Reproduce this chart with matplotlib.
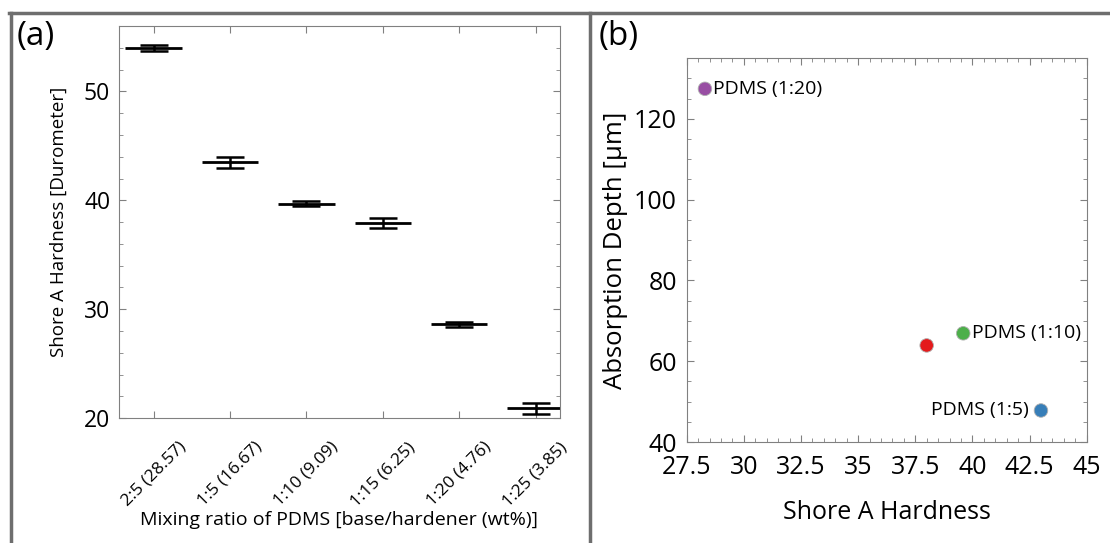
import matplotlib.pyplot as plt
from matplotlib.ticker import MultipleLocator
from matplotlib.lines import Line2D

plt.rcParams['font.family'] = ['Open Sans', 'DejaVu Sans']

# panel (a) data
ratio_labels = ['2:5 (28.57)', '1:5 (16.67)', '1:10 (9.09)', '1:15 (6.25)', '1:20 (4.76)', '1:25 (3.85)']
hardness = [54.0, 43.5, 39.7, 37.9, 28.6, 20.9]
hardness_err = [0.25, 0.5, 0.25, 0.45, 0.25, 0.5]

# panel (b) data
shore = [28.3, 38.0, 39.6, 43.0]
depth = [127.4, 63.9, 66.9, 47.8]
point_colors = ['#984ea3', '#e41a1c', '#4daf4a', '#377eb8']
point_labels = ['PDMS (1:20)', '', 'PDMS (1:10)', 'PDMS (1:5)']

fig = plt.figure(figsize=(11.1, 5.43), dpi=100)

frame_col = '#808080'

# ---- panel (a)
ax1 = fig.add_axes([0.1068, 0.230, 0.3977, 0.722])
xpos = list(range(len(hardness)))
ax1.hlines(hardness, [x - 0.37 for x in xpos], [x + 0.37 for x in xpos], color='black', lw=2)
ax1.errorbar(xpos, hardness, yerr=hardness_err, fmt='none', ecolor='black',
             elinewidth=1.8, capsize=10, capthick=1.8)
ax1.set_xlim(-0.46, 5.32)
ax1.set_ylim(20, 56)
ax1.set_xticks(xpos)
ax1.set_xticklabels(ratio_labels, rotation=45, ha='center', fontsize=12.5)
ax1.yaxis.set_major_locator(MultipleLocator(10))
ax1.yaxis.set_minor_locator(MultipleLocator(2))
ax1.tick_params(axis='y', labelsize=16.5, pad=6)
ax1.tick_params(axis='x', pad=15)
ax1.tick_params(which='both', direction='in', top=True, right=True, color=frame_col)
ax1.tick_params(which='major', length=5)
ax1.tick_params(which='minor', length=3)
ax1.set_ylabel('Shore A Hardness [Durometer]', fontsize=13.5, labelpad=12)
ax1.set_xlabel('Mixing ratio of PDMS [base/hardener (wt%)]', fontsize=14, labelpad=1)
for s in ax1.spines.values():
    s.set_color(frame_col)

# ---- panel (b)
ax2 = fig.add_axes([0.6186, 0.186, 0.3604, 0.707])
ax2.scatter(shore, depth, s=95, c=point_colors, edgecolors='#b0b0b0', linewidths=0.6, zorder=3)
for x, y, lab in zip(shore, depth, point_labels):
    if not lab:
        continue
    if x > 42:
        ax2.annotate(lab, (x, y), xytext=(-9, 0), textcoords='offset points',
                     ha='right', va='center', fontsize=14)
    else:
        ax2.annotate(lab, (x, y), xytext=(6, 0), textcoords='offset points',
                     ha='left', va='center', fontsize=14)
ax2.set_xlim(27.5, 45)
ax2.set_ylim(40, 135)
ax2.xaxis.set_major_locator(MultipleLocator(2.5))
ax2.xaxis.set_minor_locator(MultipleLocator(0.5))
ax2.yaxis.set_major_locator(MultipleLocator(20))
ax2.yaxis.set_minor_locator(MultipleLocator(5))
ax2.xaxis.set_major_formatter(plt.FuncFormatter(lambda v, p: f'{v:g}'))
ax2.tick_params(labelsize=18)
ax2.tick_params(axis='x', pad=9)
ax2.tick_params(axis='y', pad=7)
ax2.tick_params(which='both', direction='in', top=True, right=True, color=frame_col)
ax2.tick_params(which='major', length=5)
ax2.tick_params(which='minor', length=3)
ax2.set_xlabel('Shore A Hardness', fontsize=18, labelpad=15)
ax2.set_ylabel('Absorption Depth [\u03bcm]', fontsize=18.5, labelpad=4)
for s in ax2.spines.values():
    s.set_color(frame_col)

# panel letters
fig.text(0.015, 0.932, '(a)', fontsize=24, ha='left', va='center')
fig.text(0.539, 0.932, '(b)', fontsize=24, ha='left', va='center')

# panel borders
border = '#6e6e6e'
fig.add_artist(Line2D([0.008, 1.0], [0.976, 0.976], color=border, lw=2.5, transform=fig.transFigure))
fig.add_artist(Line2D([0.0095, 0.0095], [0.0, 0.976], color=border, lw=2.5, transform=fig.transFigure))
fig.add_artist(Line2D([0.5315, 0.5315], [0.0, 0.976], color=border, lw=2.5, transform=fig.transFigure))

fig.savefig('out.png', dpi=100)
